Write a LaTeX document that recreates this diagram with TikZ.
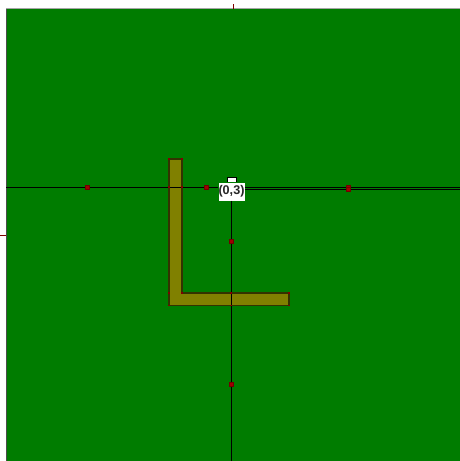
\documentclass[tikz,border=0pt]{standalone}
\usepackage{fontspec}
\setsansfont{Liberation Sans}
\usetikzlibrary{positioning}
\definecolor{board}{RGB}{0,124,0}
\definecolor{part}{RGB}{128,128,0}
\definecolor{handle}{RGB}{160,0,0}
\tikzset{
  axis/.style={black, line width=0.5pt},
  grip/.style={fill=handle, draw=handle!70!black, line width=0.2pt},
  tag/.style={fill=white, inner sep=0pt, minimum width=13pt, minimum height=9pt,
    font=\sffamily\bfseries\fontsize{6.3}{6.3}\selectfont, text=black!85}
}

\begin{document}
\begin{tikzpicture}[x=0.5pt,y=-0.5pt]
    \useasboundingbox (0,0) rectangle (460,461);

    % Board
    \fill[board] (6,9) rectangle (459.5,461);
    \draw[gray!70, line width=0.5pt] (6,8.5) -- (459.5,8.5);
    \draw[black!70, line width=0.6pt] (6.5,9) -- (6.5,461);

    % Ruler ticks
    \draw[handle!80!black, line width=0.5pt] (233,4) -- (233,9);
    \draw[handle!80!black, line width=0.5pt] (0,235) -- (6,235);

    % L part
    \draw[fill=part, draw=black!60!part, line width=0.6pt]
        (169,159) -- (182,159) -- (182,293) -- (289,293) -- (289,305.5) -- (169,305.5) -- cycle;

    % Label
    \node[tag] (origin) at (231.5,191.5) {(0,3)};
    \filldraw[fill=white, draw=black, line width=0.4pt]
        ([xshift=-2.2pt]origin.north) -- ++(0,2.4pt) -- ++(4.4pt,0) -- ++(0,-2.4pt);

    % Axes
    \coordinate (xl) at (6,187);
    \coordinate (xr) at (459.5,187);
    \coordinate (xr2) at (459.5,189.5);
    \coordinate (yb) at (231,461);
    \draw[axis] (xl) -- (origin.west |- xl);
    \draw[axis] (origin.east |- xl) -- (xr);
    \draw[axis] (origin.east |- xr2) -- (xr2);
    \draw[axis] (origin.south -| yb) -- (yb);

    % Grips
    \foreach \x/\y in {87/187, 206/187, 348/187, 348/189.5, 231/241, 231/384}
        \draw[grip] (\x-2,\y-2) rectangle (\x+2,\y+2);

    % Vertex marks
    \foreach \x/\y in {169/159, 182/159, 169/187, 182/187, 182/293, 231/293,
                       289/293, 289/305.5, 231/305.5, 169/305.5, 169/293}
        \fill[handle!80!black] (\x-0.9,\y-0.9) rectangle (\x+0.9,\y+0.9);
\end{tikzpicture}
\end{document}
